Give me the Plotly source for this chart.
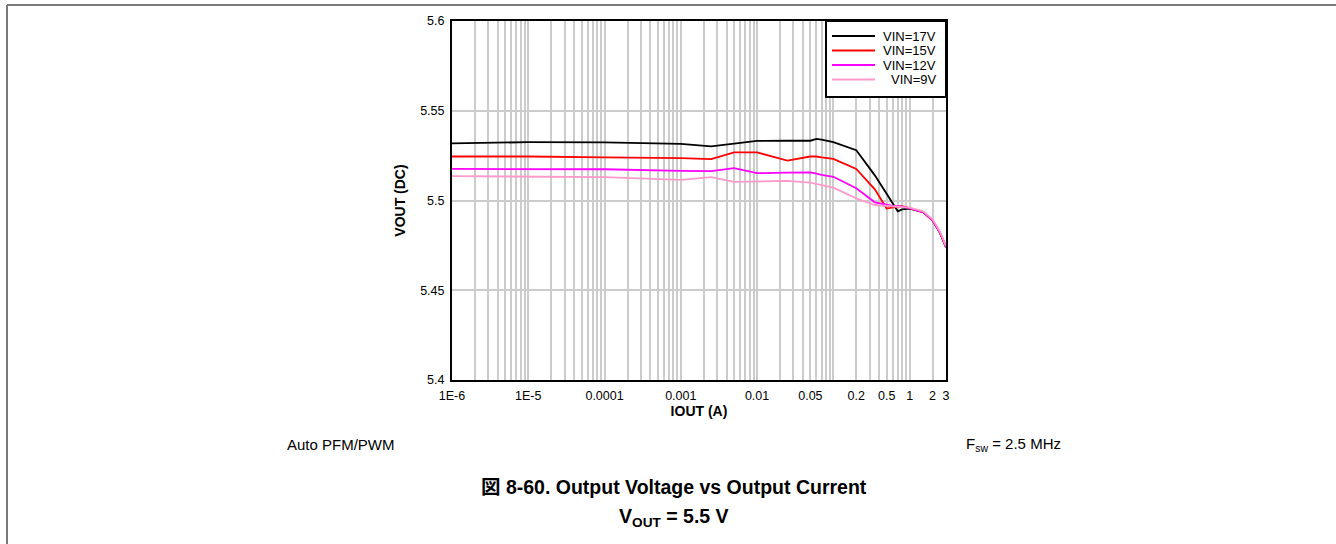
import plotly.graph_objects as go

# ---- data ----
iout = [1e-6, 1e-5, 1e-4, 1e-3, 2.5e-3, 5e-3, 1e-2, 2.5e-2, 5e-2, 6e-2, 7e-2, 1e-1,
        2e-1, 3.5e-1, 5e-1, 6e-1, 7e-1, 8e-1, 1.0, 1.5, 2.0, 2.5, 3.0]
vin17 = [5.5318, 5.5325, 5.5324, 5.5315, 5.5302, 5.5318, 5.5332, 5.5333, 5.5333, 5.5343, 5.5339, 5.5325,
         5.5280, 5.5140, 5.5040, 5.4985, 5.4940, 5.4950, 5.4955, 5.4935, 5.4890, 5.4820, 5.4740]
vin15 = [5.5245, 5.5245, 5.5240, 5.5236, 5.5230, 5.5268, 5.5268, 5.5222, 5.5245, 5.5245, 5.5240, 5.5232,
         5.5176, 5.5062, 5.4955, 5.4962, 5.4966, 5.4968, 5.4958, 5.4935, 5.4890, 5.4820, 5.4740]
vin12 = [5.5176, 5.5177, 5.5174, 5.5165, 5.5164, 5.5180, 5.5152, 5.5155, 5.5157, 5.5150, 5.5143, 5.5132,
         5.5068, 5.4990, 5.4975, 5.4970, 5.4968, 5.4966, 5.4958, 5.4935, 5.4890, 5.4822, 5.4742]
vin9 = [5.5136, 5.5135, 5.5130, 5.5115, 5.5130, 5.5104, 5.5106, 5.5109, 5.5100, 5.5094, 5.5086, 5.5072,
        5.5012, 5.4975, 5.4970, 5.4970, 5.4968, 5.4966, 5.4960, 5.4940, 5.4895, 5.4826, 5.4746]

series_names = ["VIN=17V", "VIN=15V", "VIN=12V", "VIN=9V"]
series_vals = [vin17, vin15, vin12, vin9]
series_colors = ["#000000", "#ff0000", "#ff00ff", "#ff99cc"]

x_tickvals = [1e-6, 1e-5, 1e-4, 1e-3, 1e-2, 0.05, 0.2, 0.5, 1, 2, 3]
x_ticktext = ["1E-6", "1E-5", "0.0001", "0.001", "0.01", "0.05", "0.2", "0.5", "1", "2", "3"]
y_tickvals = [5.4, 5.45, 5.5, 5.55, 5.6]
y_ticktext = ["5.4", "5.45", "5.5", "5.55", "5.6"]

# grid positions: 1..9 in every decade up to 3
grid_x = []
for e in range(-6, 1):
    for m in range(1, 10):
        v = m * 10 ** e
        if v <= 3.0001:
            grid_x.append(v)

FONT = "Liberation Sans, Arial, Noto Sans CJK JP, sans-serif"

fig = go.Figure()
for name, vals, col in zip(series_names, series_vals, series_colors):
    fig.add_trace(go.Scatter(x=iout, y=vals, mode="lines", name=name,
                             line=dict(color=col, width=1.8), showlegend=False))

L, R, T, B = 452, 946, 21, 380
W, H = 1336, 544
fig.update_layout(
    width=W, height=H,
    margin=dict(l=L, r=W - R, t=T, b=H - B),
    paper_bgcolor="white", plot_bgcolor="white",
    font=dict(family=FONT, size=13, color="black"),
    showlegend=False,
)
fig.update_xaxes(
    type="log", range=[-6, 0.4771],
    tickvals=x_tickvals, ticktext=x_ticktext, ticks="",
    showgrid=False, zeroline=False,
    showline=True, linecolor="black", linewidth=2, mirror=True,
    tickfont=dict(size=12.5), ticklabelstandoff=3,
    minor=dict(tickvals=grid_x, showgrid=True, gridcolor="#cccccc", gridwidth=1.5, ticks=""),
    title=dict(text="<b>IOUT (A)</b>", font=dict(size=14), standoff=1),
)
fig.update_yaxes(
    range=[5.4, 5.6],
    tickvals=y_tickvals, ticktext=y_ticktext, ticks="",
    showgrid=True, gridcolor="#cccccc", gridwidth=1.5, zeroline=False,
    showline=True, linecolor="black", linewidth=2, mirror=True,
    tickfont=dict(size=12.5), ticklabelstandoff=3,
    title=dict(text="<b>VOUT (DC)</b>", font=dict(size=14), standoff=11),
)

def px(x):
    return (x - L) / (R - L)

def py(y):
    return (B - y) / (B - T)

# legend box (drawn in paper space)
fig.add_shape(type="rect", xref="paper", yref="paper", x0=px(826), x1=1, y0=py(97), y1=1,
              line=dict(color="black", width=2), fillcolor="white", layer="above")
leg_y = [36, 50.5, 65, 79.5]
for name, col, yy in zip(series_names, series_colors, leg_y):
    fig.add_shape(type="line", xref="paper", yref="paper", x0=px(832), x1=px(875),
                  y0=py(yy), y1=py(yy), line=dict(color=col, width=1.8), layer="above")
    fig.add_annotation(xref="paper", yref="paper", x=px(938), y=py(yy), xanchor="right",
                       yanchor="middle", text=name, showarrow=False,
                       font=dict(size=13, family=FONT))

# outer frame (top and left edges)
fig.add_shape(type="line", xref="paper", yref="paper", x0=px(7), x1=px(1340), y0=py(5), y1=py(5),
              line=dict(color="#7a7a7a", width=2))
fig.add_shape(type="line", xref="paper", yref="paper", x0=px(7), x1=px(7), y0=py(5), y1=py(548),
              line=dict(color="#7a7a7a", width=2))

fig.add_annotation(xref="paper", yref="paper", x=px(285), y=py(444), xanchor="left", yanchor="middle",
                   text="Auto PFM/PWM", showarrow=False, font=dict(size=15, family=FONT))
fig.add_annotation(xref="paper", yref="paper", x=px(1063), y=py(444), xanchor="right", yanchor="middle",
                   text="F<sub>sw</sub> = 2.5 MHz", showarrow=False, font=dict(size=15, family=FONT))
fig.add_annotation(xref="paper", yref="paper", x=px(674), y=py(487), xanchor="center", yanchor="middle",
                   text="<b>図 8-60. Output Voltage vs Output Current</b>", showarrow=False,
                   font=dict(size=19.5, family=FONT))
fig.add_annotation(xref="paper", yref="paper", x=px(674), y=py(517), xanchor="center", yanchor="middle",
                   text="<b>V<sub>OUT</sub> = 5.5 V</b>", showarrow=False,
                   font=dict(size=19.5, family=FONT))

fig.write_html("out.html", config={"displayModeBar": False},
               post_script="document.body.style.margin='0px';")
